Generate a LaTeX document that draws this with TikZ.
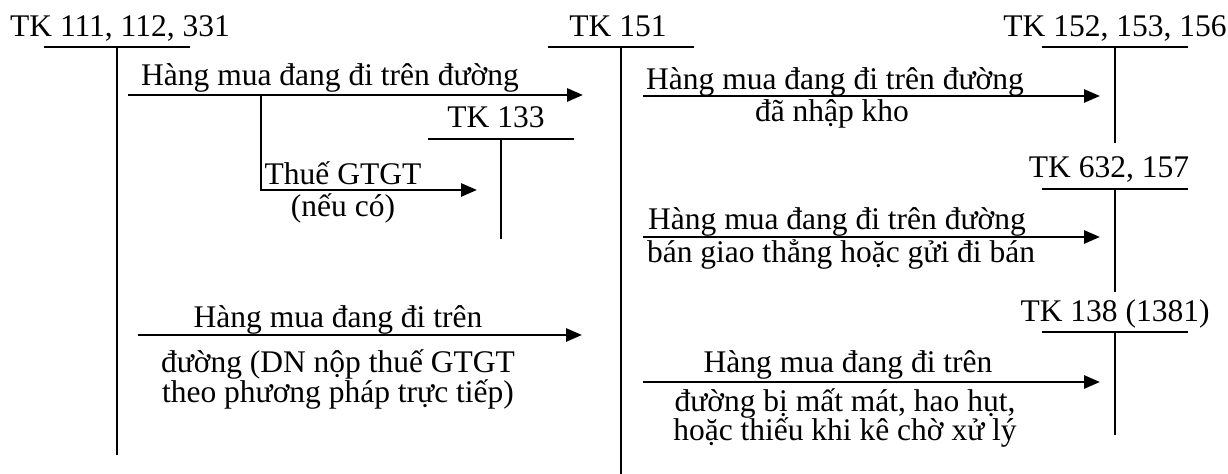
\documentclass[tikz,border=0pt]{standalone}
\usepackage{fontspec}
\setmainfont{Liberation Serif}
\usetikzlibrary{arrows.meta,positioning}

\tikzset{
  lbl/.style={font=\fontsize{15.75pt}{15pt}\selectfont, inner sep=0pt, anchor=base, align=center},
  tline/.style={line width=1.2pt},
  arr/.style={line width=1.4pt, -{Triangle[length=8pt,width=6.5pt]}},
}

\begin{document}
\begin{tikzpicture}[x=0.5pt, y=-0.5pt]
  \useasboundingbox (0,0) rectangle (1228,474);
  % T accounts
  \node[lbl] (tk111) at (120,37) {TK 111, 112, 331};
  \coordinate (tk111l) at (44,47);
  \coordinate (tk111r) at (190,47);
  \coordinate (tk111t) at (117,47);
  \coordinate (tk111b) at (117,455);
  \draw[tline] (tk111l) -- (tk111r) (tk111t) -- (tk111b);

  \node[lbl] (tk151) at (618,37) {TK 151};
  \coordinate (tk151l) at (548,47);
  \coordinate (tk151r) at (694,47);
  \coordinate (tk151t) at (621,47);
  \coordinate (tk151b) at (621,474);
  \draw[tline] (tk151l) -- (tk151r) (tk151t) -- (tk151b);

  \node[lbl] (tk152) at (1115,37) {TK 152, 153, 156};
  \coordinate (tk152l) at (1042,47);
  \coordinate (tk152r) at (1188,47);
  \coordinate (tk152t) at (1115,47);
  \coordinate (tk152b) at (1115,143);
  \draw[tline] (tk152l) -- (tk152r) (tk152t) -- (tk152b);

  \node[lbl] (tk133) at (496,128) {TK 133};
  \coordinate (tk133l) at (428,139);
  \coordinate (tk133r) at (574,139);
  \coordinate (tk133t) at (501,139);
  \coordinate (tk133b) at (501,239);
  \draw[tline] (tk133l) -- (tk133r) (tk133t) -- (tk133b);

  \node[lbl] (tk632) at (1109,178) {TK 632, 157};
  \coordinate (tk632l) at (1042,189);
  \coordinate (tk632r) at (1188,189);
  \coordinate (tk632t) at (1115,189);
  \coordinate (tk632b) at (1115,292);
  \draw[tline] (tk632l) -- (tk632r) (tk632t) -- (tk632b);

  \node[lbl] (tk138) at (1115,322) {TK 138 (1381)};
  \coordinate (tk138l) at (1042,332);
  \coordinate (tk138r) at (1188,332);
  \coordinate (tk138t) at (1115,332);
  \coordinate (tk138b) at (1115,435);
  \draw[tline] (tk138l) -- (tk138r) (tk138t) -- (tk138b);

  % left side
  \coordinate (mua1s) at (128,95);
  \coordinate (mua1e) at (583,95);
  \draw[arr] (mua1s) -- (mua1e);
  \node[lbl] (mua1a) at (330,86) {Hàng mua đang đi trên đường};

  \coordinate (thues) at (261,95);
  \coordinate (thuee) at (477,190);
  \draw[arr] (thues) |- (thuee);
  \node[lbl] (thuea) at (343,185) {Thuế GTGT};
  \node[lbl] (thueb) at (343,217) {(nếu có)};

  \coordinate (mua2s) at (138,335);
  \coordinate (mua2e) at (582,335);
  \draw[arr] (mua2s) -- (mua2e);
  \node[lbl] (mua2a) at (338,328) {Hàng mua đang đi trên};
  \node[lbl] (mua2b) at (338,403) {đường (DN nộp thuế GTGT\\theo phương pháp trực tiếp)};

  % right side
  \coordinate (nhap1s) at (643,96);
  \coordinate (nhap1e) at (1100,96);
  \draw[arr] (nhap1s) -- (nhap1e);
  \node[lbl] (nhap1a) at (835,90) {Hàng mua đang đi trên đường};
  \node[lbl] (nhap1b) at (832,122) {đã nhập kho};

  \coordinate (ban1s) at (643,237);
  \coordinate (ban1e) at (1100,237);
  \draw[arr] (ban1s) -- (ban1e);
  \node[lbl] (ban1a) at (837,230) {Hàng mua đang đi trên đường};
  \node[lbl] (ban1b) at (841,263) {bán giao thẳng hoặc gửi đi bán};

  \coordinate (mat1s) at (643,382);
  \coordinate (mat1e) at (1100,382);
  \draw[arr] (mat1s) -- (mat1e);
  \node[lbl] (mat1a) at (848,373) {Hàng mua đang đi trên};
  \node[lbl] (mat1b) at (845,441) {đường bị mất mát, hao hụt,\\[-0.5pt]hoặc thiếu khi kê chờ xử lý};
\end{tikzpicture}
\end{document}
